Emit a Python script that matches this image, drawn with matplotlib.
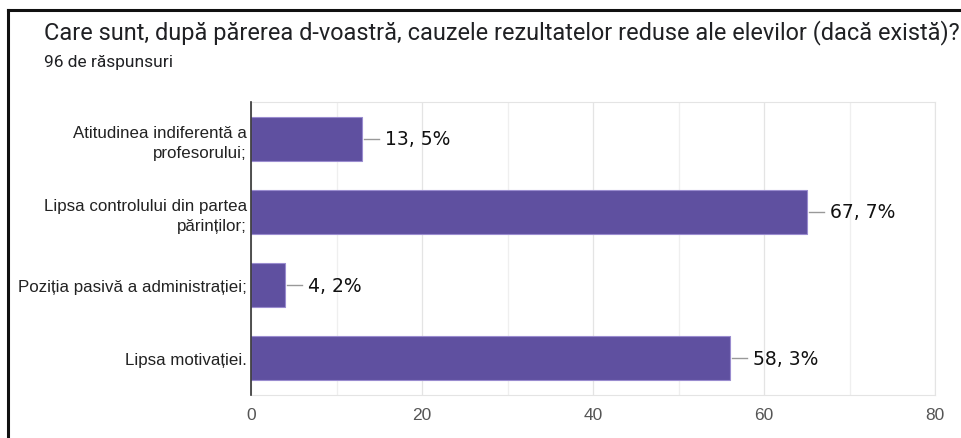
import matplotlib.pyplot as plt
import matplotlib.lines as mlines
import matplotlib.transforms as mtransforms
import numpy as np

# chart data
categories = ['Atitudinea indiferentă a\nprofesorului;',
              'Lipsa controlului din partea\npărinților;',
              'Poziția pasivă a administrației;',
              'Lipsa motivației.']
counts = [13, 65, 4, 56]
value_labels = ['13, 5%', '67, 7%', '4, 2%', '58, 3%']
xticks = [0, 20, 40, 60, 80]

title = 'Care sunt, după părerea d-voastră, cauzele rezultatelor reduse ale elevilor (dacă există)?'
subtitle = '96 de răspunsuri'

fig = plt.figure(figsize=(9.61, 4.39), dpi=100)
ax = fig.add_axes([0.2612, 0.098, 0.7120, 0.6674])

ypos = np.arange(len(categories))
ax.barh(ypos, counts, height=0.6, color='#5f50a0', edgecolor='#9a8ccf',
        linewidth=0.8, zorder=3)

ax.set_xlim(0, 80)
ax.set_ylim(len(categories) - 0.5, -0.5)
ax.set_xticks(xticks)
ax.set_xticks([10, 30, 50, 70], minor=True)
ax.set_yticks(ypos)
ax.set_yticklabels(categories, fontsize=12.2, family='Liberation Sans',
                   color='#222222', linespacing=1.4)
# two-line labels sit a touch lower than the bar centre
for lab in ax.get_yticklabels():
    if '\n' in lab.get_text():
        lab.set_transform(lab.get_transform() +
                          mtransforms.ScaledTranslation(0, -2 / 72, fig.dpi_scale_trans))
for lab in ax.get_xticklabels():
    lab.set_fontsize(12.5)
    lab.set_family('Liberation Sans')
    lab.set_color('#555555')
ax.tick_params(axis='y', length=0, pad=3)
ax.tick_params(axis='x', which='both', length=0, pad=9)

ax.grid(axis='x', which='major', color='#e4e4e4', linewidth=0.9, zorder=0)
ax.grid(axis='x', which='minor', color='#efefef', linewidth=0.9, zorder=0)
for side in ['top', 'right', 'bottom']:
    ax.spines[side].set_color('#e4e4e4')
ax.spines['left'].set_color('#333333')
ax.spines['left'].set_linewidth(1.2)
ax.spines['left'].set_zorder(4)

# value labels with a short leader line
px = 80 / (0.7120 * 961)
for y, c, txt in zip(ypos, counts, value_labels):
    ax.plot([c + 2 * px, c + 17 * px], [y, y], color='#999999', lw=1, zorder=3,
            clip_on=False)
    ax.text(c + 23 * px, y, txt, va='center', ha='left', fontsize=13.5,
            family='DejaVu Sans', color='#111111', zorder=4)

fig.text(44 / 961, 1 - 33 / 439, title, fontsize=16.9, family='Roboto',
         color='#202124', va='center', ha='left')
fig.text(44 / 961, 1 - 63 / 439, subtitle, fontsize=12.5, family='Roboto',
         color='#202124', va='center', ha='left')

# black frame on the left and top of the screenshot
fig.add_artist(mlines.Line2D([7.5 / 961, 7.5 / 961], [0, 1 - 10.5 / 439],
                             color='#111111', lw=2.2, transform=fig.transFigure))
fig.add_artist(mlines.Line2D([7.5 / 961, 1], [1 - 10.5 / 439, 1 - 10.5 / 439],
                             color='#111111', lw=2.2, transform=fig.transFigure))

fig.savefig('out.png', dpi=100)
